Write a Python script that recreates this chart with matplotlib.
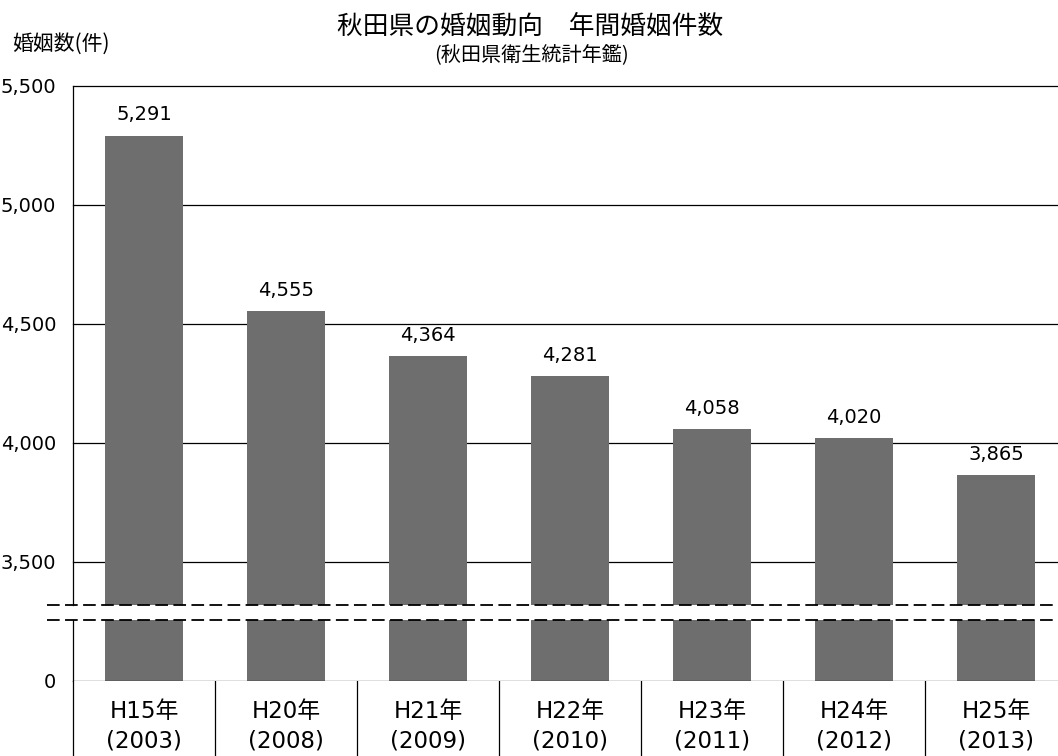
import numpy as np
import matplotlib.pyplot as plt
from matplotlib.ticker import FuncFormatter

plt.rcParams['font.family'] = ['DejaVu Sans', 'Noto Sans CJK JP']

era_labels = ['H15年', 'H20年', 'H21年', 'H22年', 'H23年', 'H24年', 'H25年']
year_labels = ['(2003)', '(2008)', '(2009)', '(2010)', '(2011)', '(2012)', '(2013)']
counts = [5291, 4555, 4364, 4281, 4058, 4020, 3865]
grid_ticks = [3500, 4000, 4500, 5000, 5500]

W, H = 1058, 756
fig = plt.figure(figsize=(W / 100, H / 100), dpi=100)

# layout in pixels of the reference
x_left = 73
cat_w = 142
y_top, y_cut1, y_cut2, y_zero = 86, 605, 620, 681
per_px = 500 / 119

left = x_left / W
width = len(counts) * cat_w / W
top_ax = fig.add_axes([left, 1 - y_cut1 / H, width, (y_cut1 - y_top) / H])
low_ax = fig.add_axes([left, 1 - y_zero / H, width, (y_zero - y_cut2) / H])
tab_ax = fig.add_axes([left, 0, width, 1 - y_zero / H])

x = np.arange(len(counts))
bar_col = '#6e6e6e'
top_lo = 5500 - (y_cut1 - y_top) * per_px
low_hi = (y_zero - y_cut2) * per_px

for ax in (top_ax, low_ax, tab_ax):
    ax.set_xlim(-0.5, len(counts) - 0.5)
    ax.set_xticks([])
    for s in ax.spines.values():
        s.set_visible(False)
    ax.spines['left'].set_visible(True)
    ax.spines['left'].set_linewidth(0.9)

top_ax.bar(x, counts, width=0.55, color=bar_col, zorder=2)
low_ax.bar(x, counts, width=0.55, color=bar_col, zorder=2)
top_ax.set_ylim(top_lo, 5500)
low_ax.set_ylim(0, low_hi)

for t in grid_ticks:
    top_ax.axhline(t, color='black', lw=0.9, zorder=1, clip_on=False)

for xi, v in zip(x, counts):
    top_ax.annotate(f'{v:,}', (xi, v), xytext=(0, 15), textcoords='offset points',
                    ha='center', va='center', fontsize=14)

fmt = FuncFormatter(lambda v, p: f'{v:,.0f}')
top_ax.set_yticks(grid_ticks)
top_ax.yaxis.set_major_formatter(fmt)
low_ax.set_yticks([0])
low_ax.yaxis.set_major_formatter(fmt)
for ax in (top_ax, low_ax):
    ax.tick_params(axis='y', length=0, pad=12, labelsize=14)
tab_ax.set_yticks([])

low_ax.spines['bottom'].set_visible(True)
low_ax.spines['bottom'].set_linewidth(0.9)

# break marks
dash = (0, (7, 3))
x0 = -(x_left - 47) / (len(counts) * cat_w)
top_ax.axhline(top_lo, xmin=x0, xmax=1, color='black', lw=1.3, ls=dash, clip_on=False, zorder=3)
low_ax.axhline(low_hi, xmin=x0, xmax=1, color='black', lw=1.3, ls=dash, clip_on=False, zorder=3)

# category table below the axis
for b in np.arange(0.5, len(counts), 1):
    tab_ax.axvline(b, color='black', lw=0.9)
tab_ax.set_ylim(0, 1)
for xi, a, b in zip(x, era_labels, year_labels):
    tab_ax.text(xi, 0.6, a, ha='center', va='center', fontsize=16.5)
    tab_ax.text(xi, 0.2, b, ha='center', va='center', fontsize=16.5)

cjk = ['Noto Sans CJK JP', 'DejaVu Sans']
fig.text(530 / W, 1 - 27 / H, '秋田県の婚姻動向　年間婚姻件数', ha='center', va='center',
         fontsize=18.5, family=cjk)
fig.text(531 / W, 1 - 56 / H, '(秋田県衛生統計年鑑)', ha='center', va='center',
         fontsize=14.5, family=cjk)
fig.text(12 / W, 1 - 44 / H, '婚姻数(件)', ha='left', va='center',
         fontsize=15, family=cjk)

fig.savefig('out.png', dpi=100)
